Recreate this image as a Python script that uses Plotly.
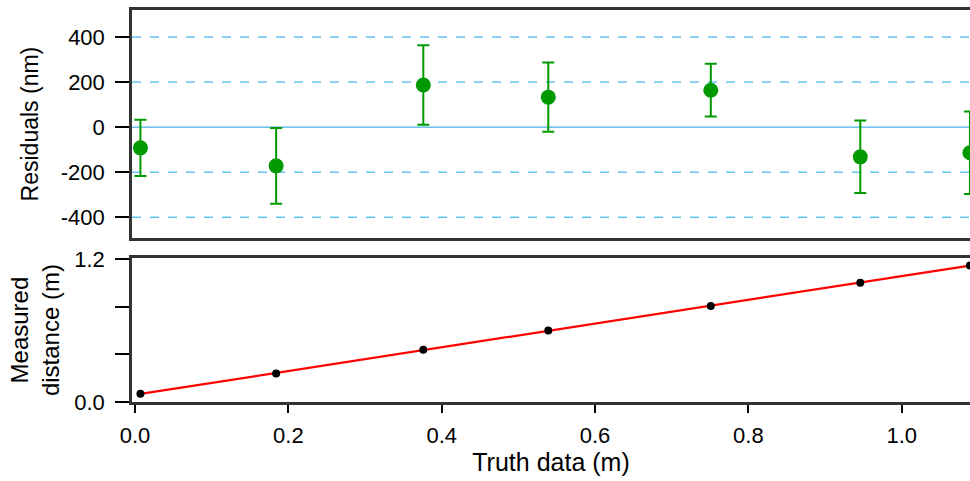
import numpy as np
import plotly.graph_objects as go

# ---- data ----
truth = [0.007, 0.184, 0.376, 0.539, 0.751, 0.946, 1.089]
measured = [0.070, 0.240, 0.439, 0.601, 0.808, 1.004, 1.149]
residuals = [-92, -172, 187, 133, 164, -132, -114]
res_err = [125, 168, 176, 154, 117, 161, 183]
x_ticks = [0.0, 0.2, 0.4, 0.6, 0.8, 1.0]
x_ticktext = ["0.0", "0.2", "0.4", "0.6", "0.8", "1.0"]
res_ticks = [-400, -200, 0, 200, 400]
res_ticktext = ["-400", "-200", "0", "200", "400"]
meas_ticks = [0.0, 0.4, 0.8, 1.2]
meas_ticktext = ["0.0", "", "", "1.2"]

# linear fit of measured vs truth
coef = np.polyfit(truth, measured, 1)
fit_x = np.array([min(truth), max(truth)])
fit_y = np.polyval(coef, fit_x)

FONT = "Liberation Sans, Arial, sans-serif"
GREEN = "#009a00"
FRAME = "#333333"

fig = go.Figure()

# residual reference lines (dashed grid, solid zero)
for v in res_ticks:
    fig.add_shape(
        type="line", xref="x2 domain", yref="y2", x0=0, x1=1, y0=v, y1=v,
        line=dict(color="#1aa7ee" if v != 0 else "#1c9be4", width=1,
                  dash="solid" if v == 0 else "dash"),
        layer="below",
    )

# residuals (top panel)
fig.add_trace(go.Scatter(
    x=truth, y=residuals, mode="markers",
    marker=dict(color=GREEN, size=15),
    error_y=dict(type="data", array=res_err, color=GREEN, thickness=2, width=6),
    xaxis="x2", yaxis="y2", showlegend=False, cliponaxis=False,
))

# fit line + measured points (bottom panel)
fig.add_trace(go.Scatter(
    x=fit_x, y=fit_y, mode="lines",
    line=dict(color="#ff0000", width=2.2),
    xaxis="x", yaxis="y", showlegend=False,
))
fig.add_trace(go.Scatter(
    x=truth, y=measured, mode="markers",
    marker=dict(color="black", size=8),
    xaxis="x", yaxis="y", showlegend=False, cliponaxis=False,
))

xrange = [-0.004, 1.0891]

fig.update_layout(
    width=970, height=481,
    margin=dict(l=132, r=0, t=10, b=79),
    paper_bgcolor="white", plot_bgcolor="white",
    font=dict(family=FONT, size=22, color="black"),
    xaxis=dict(
        domain=[0, 1], anchor="y", range=xrange,
        tickvals=x_ticks, ticktext=x_ticktext,
        ticks="outside", ticklen=8, tickwidth=2, tickcolor="black",
        ticklabelstandoff=4,
        showline=True, linecolor=FRAME, linewidth=2.5, mirror=True,
        showgrid=False, zeroline=False,
        title=dict(text="Truth data (m)", font=dict(size=25), standoff=6),
    ),
    yaxis=dict(
        domain=[0, 0.367], anchor="x", range=[0, 1.21],
        tickvals=meas_ticks, ticktext=meas_ticktext,
        ticks="outside", ticklen=14, tickwidth=2, tickcolor="black",
        ticklabelstandoff=6,
        showline=True, linecolor=FRAME, linewidth=2.5, mirror=False,
        showgrid=False, zeroline=False,
        title=dict(text="Measured<br>distance (m)", font=dict(size=24), standoff=8),
    ),
    xaxis2=dict(
        domain=[0, 1], anchor="y2", range=xrange, matches="x",
        showticklabels=False, ticks="",
        showline=True, linecolor=FRAME, linewidth=2.5, mirror=True,
        showgrid=False, zeroline=False,
    ),
    yaxis2=dict(
        domain=[0.418, 1], anchor="x2", range=[-493, 520],
        tickvals=res_ticks, ticktext=res_ticktext,
        ticks="outside", ticklen=14, tickwidth=2, tickcolor="black",
        ticklabelstandoff=6,
        showline=True, linecolor=FRAME, linewidth=2.5, mirror=False,
        showgrid=False, zeroline=False,
        title=dict(text="Residuals (nm)", font=dict(size=23), standoff=16),
    ),
)

fig.write_html(
    "out.html",
    config={"displayModeBar": False},
    post_script="document.body.style.margin='0';document.body.style.overflow='hidden';",
)
